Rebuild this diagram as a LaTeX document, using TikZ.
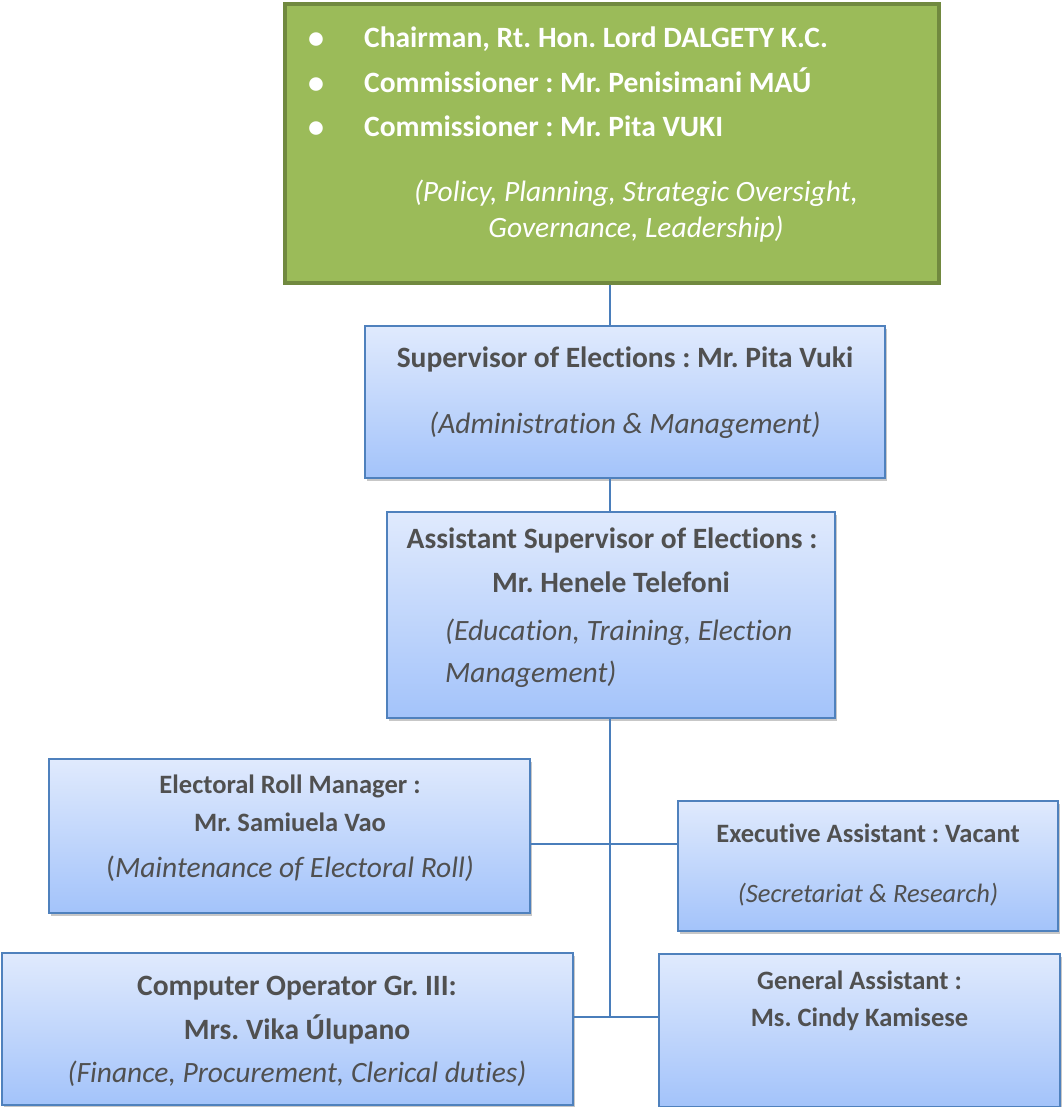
\documentclass[tikz,border=0pt]{standalone}
\usepackage{fontspec}
\setmainfont{Carlito}[Ligatures=NoCommon]
\usetikzlibrary{shadows}
\definecolor{gfill}{HTML}{9BBB59}
\definecolor{gborder}{HTML}{71893F}
\definecolor{btop}{HTML}{E0EAFD}
\definecolor{bbot}{HTML}{A3C3FA}
\definecolor{bborder}{HTML}{4F81BD}
\definecolor{txt}{HTML}{505050}
\definecolor{conn}{HTML}{4A7EBB}
\tikzset{
  greenbox/.style={rectangle, draw=gborder, fill=gfill, line width=4pt, inner sep=0pt},
  bluebox/.style={rectangle, draw=bborder, line width=2pt, top color=btop, bottom color=bbot, inner sep=0pt,
    drop shadow={shadow xshift=2pt, shadow yshift=-3pt, fill=black, opacity=0.22}},
  wt/.style={anchor=base, text=white, inner sep=0pt},
  bt/.style={anchor=base, text=txt, inner sep=0pt},
  connector/.style={draw=conn, line width=1.6pt},
}
\frenchspacing
\begin{document}
\frenchspacing
\begin{tikzpicture}[x=1pt,y=-1pt]
\useasboundingbox (0,0) rectangle (1061,1107);
% boxes
\node[greenbox, minimum width=654pt, minimum height=279pt] (board) at (612,143.5) {};
\node[bluebox, minimum width=520pt, minimum height=152pt] (sup) at (625,402) {};
\node[bluebox, minimum width=448pt, minimum height=206pt] (asst) at (611,615) {};
\node[bluebox, minimum width=481pt, minimum height=154pt] (erm) at (289.5,836) {};
\node[bluebox, minimum width=380pt, minimum height=130pt] (exa) at (868,866) {};
\node[bluebox, minimum width=571pt, minimum height=152pt] (cop) at (287.5,1029) {};
\node[bluebox, minimum width=401pt, minimum height=153pt] (gen) at (859.5,1030) {};
% board text
\node[wt, font=\bfseries\fontsize{32}{32}\selectfont] (b1) at (316,49) {•};
\node[wt, font=\bfseries\fontsize{32}{32}\selectfont] (b2) at (316,94) {•};
\node[wt, font=\bfseries\fontsize{32}{32}\selectfont] (b3) at (316,138) {•};
\node[wt, anchor=base west, font=\bfseries\fontsize{29.5}{30}\selectfont] (l1) at (364,48) {Chairman, Rt. Hon. Lord DALGETY K.C.};
\node[wt, anchor=base west, font=\bfseries\fontsize{29.5}{30}\selectfont] (l2) at (364,93) {Commissioner : Mr. Penisimani MAÚ};
\node[wt, anchor=base west, font=\bfseries\fontsize{29.5}{30}\selectfont] (l3) at (364,137) {Commissioner : Mr. Pita VUKI};
\node[wt, font=\itshape\fontsize{29.5}{30}\selectfont] (l4) at (636,202) {(Policy, Planning, Strategic Oversight,};
\node[wt, font=\itshape\fontsize{29.5}{30}\selectfont] (l5) at (636,237) {Governance, Leadership)};
% supervisor
\node[bt, font=\bfseries\fontsize{29.5}{30}\selectfont] (s1) at (625,367) {Supervisor of Elections : Mr. Pita Vuki};
\node[bt, font=\itshape\fontsize{29.5}{30}\selectfont] (s2) at (625,433) {(Administration \& Management)};
% assistant supervisor
\node[bt, font=\bfseries\fontsize{29.5}{30}\selectfont] (a1) at (612,548) {Assistant Supervisor of Elections :};
\node[bt, font=\bfseries\fontsize{29.5}{30}\selectfont] (a2) at (611,592) {Mr. Henele Telefoni};
\node[bt, anchor=base west, font=\itshape\fontsize{29.5}{30}\selectfont] (a3) at (445,640) {(Education, Training, Election};
\node[bt, anchor=base west, font=\itshape\fontsize{29.5}{30}\selectfont] (a4) at (445,682) {Management)};
% electoral roll manager
\node[bt, font=\bfseries\fontsize{26.5}{27}\selectfont] (e1) at (290,793) {Electoral Roll Manager :};
\node[bt, font=\bfseries\fontsize{26.5}{27}\selectfont] (e2) at (290,831) {Mr. Samiuela Vao};
\node[bt, font=\fontsize{29.5}{30}\selectfont] (e3) at (290,877) {(\textit{Maintenance of Electoral Roll)}};
% executive assistant
\node[bt, font=\bfseries\fontsize{26.5}{27}\selectfont] (x1) at (868,842) {Executive Assistant : Vacant};
\node[bt, font=\itshape\fontsize{26.5}{27}\selectfont] (x2) at (868,902) {(Secretariat \& Research)};
% computer operator
\node[bt, font=\bfseries\fontsize{29.5}{30}\selectfont] (c1) at (297,995) {Computer Operator Gr. III:};
\node[bt, font=\bfseries\fontsize{29.5}{30}\selectfont] (c2) at (297,1039) {Mrs. Vika Úlupano};
\node[bt, font=\itshape\fontsize{29.5}{30}\selectfont] (c3) at (297,1082) {(Finance, Procurement, Clerical duties)};
% general assistant
\node[bt, font=\bfseries\fontsize{26.5}{27}\selectfont] (g1) at (859.5,989) {General Assistant :};
\node[bt, font=\bfseries\fontsize{26.5}{27}\selectfont] (g2) at (859.5,1026) {Ms. Cindy Kamisese};
% connectors
\coordinate (j1) at (610,844);
\coordinate (j2) at (610,1017);
\draw[connector] (board.south -| j1) -- (sup.north -| j1);
\draw[connector] (sup.south -| j1) -- (asst.north -| j1);
\draw[connector] (asst.south -| j1) -- (j2);
\draw[connector] (erm.east |- j1) -- (exa.west |- j1);
\draw[connector] (cop.east |- j2) -- (gen.west |- j2);
\end{tikzpicture}
\end{document}
